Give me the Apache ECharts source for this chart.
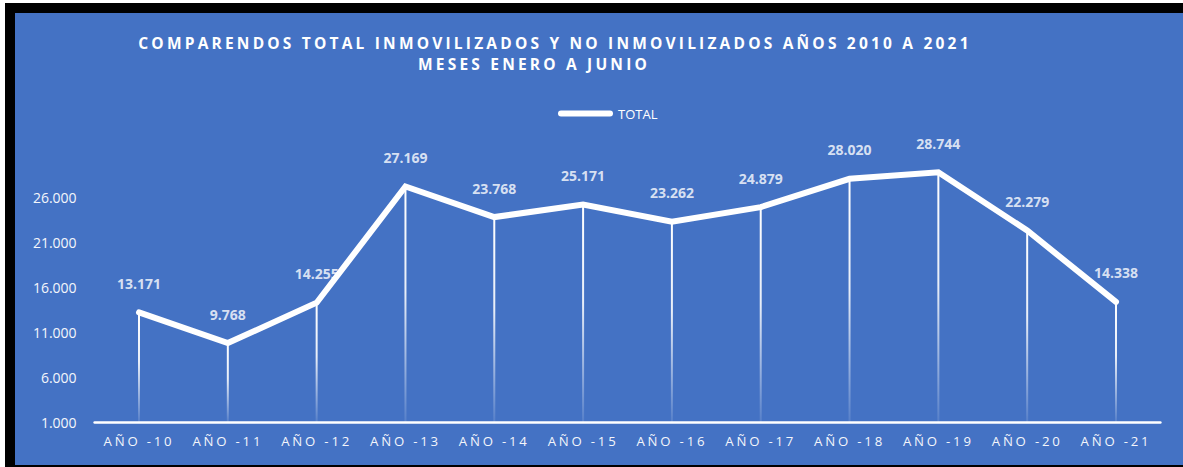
<!DOCTYPE html>
<html>
<head>
<meta charset="utf-8">
<title>Comparendos 2010-2021</title>
<script src="https://cdn.jsdelivr.net/npm/echarts@6/dist/echarts.min.js"></script>
<style>
  html, body { margin: 0; padding: 0; background: #ffffff; }
  #chart { width: 1183px; height: 467px; }
  /* spaced capitals for the heading and the category labels */
  #chart svg text[style*="15.5px"] { letter-spacing: 3.2px; }
  #chart svg text[style*="13.2px"] { letter-spacing: 2.8px; }
</style>
</head>
<body>
<div id="chart"></div>
<script>
// Categories (years) and totals for January-June of each year
const categories = ['AÑO -10', 'AÑO -11', 'AÑO -12', 'AÑO -13', 'AÑO -14', 'AÑO -15',
                    'AÑO -16', 'AÑO -17', 'AÑO -18', 'AÑO -19', 'AÑO -20', 'AÑO -21'];
const totals = [13171, 9768, 14255, 27169, 23768, 25171, 23262, 24879, 28020, 28744, 22279, 14338];
const seriesName = 'TOTAL';
const titleLines = ['COMPARENDOS TOTAL INMOVILIZADOS Y NO INMOVILIZADOS AÑOS 2010 A 2021',
                    'MESES ENERO A JUNIO'];
// Value axis range and step
const yMin = 1000;
const yMax = 30000;
const yStep = 5000;

const fmt = v => String(v).replace(/\B(?=(\d{3})+(?!\d))/g, '.');

const chart = echarts.init(document.getElementById('chart'), null, { renderer: 'svg' });

const BLUE = '#4472C4';
const FONT = "'Open Sans', 'Noto Sans', sans-serif";

chart.setOption({
  animation: false,
  backgroundColor: '#ffffff',
  graphic: [
    { type: 'rect', z: -10, shape: { x: 5, y: 3, width: 1178, height: 464 }, style: { fill: '#000000' } },
    { type: 'rect', z: -9, shape: { x: 15, y: 13, width: 1168, height: 452 }, style: { fill: BLUE } },
    { type: 'text', x: 555, y: 43, style: {
        text: titleLines[0], fill: '#ffffff', font: 'bold 15.5px ' + FONT,
        textAlign: 'center', textVerticalAlign: 'middle' } },
    { type: 'text', x: 534, y: 64, style: {
        text: titleLines[1], fill: '#ffffff', font: 'bold 15.5px ' + FONT,
        textAlign: 'center', textVerticalAlign: 'middle' } }
  ],
  legend: {
    data: [seriesName],
    left: 553,
    top: 102,
    itemWidth: 55,
    itemHeight: 6,
    itemGap: 4,
    icon: 'path://M3,0 H52 A3,3 0 0 1 52,6 H3 A3,3 0 0 1 3,0 Z',
    textStyle: { color: '#ffffff', fontSize: 13, fontFamily: FONT }
  },
  grid: { left: 94.6, right: 22.6, top: 161, bottom: 45, containLabel: false },
  xAxis: {
    type: 'category',
    data: categories,
    boundaryGap: true,
    axisLine: { lineStyle: { color: '#ffffff', width: 2.5 } },
    axisTick: { show: false },
    axisLabel: { color: '#f4f6fb', fontSize: 13.2, fontFamily: FONT, margin: 12 }
  },
  yAxis: {
    type: 'value',
    min: yMin,
    max: yMax,
    interval: yStep,
    axisLine: { show: false },
    axisTick: { show: false },
    splitLine: { show: false },
    axisLabel: {
      color: '#f4f6fb', fontSize: 14, fontFamily: FONT, margin: 18,
      showMaxLabel: false,
      formatter: v => fmt(v)
    }
  },
  series: [
    {
      // drop lines from each point to the axis
      type: 'bar',
      data: totals,
      barWidth: 2,
      z: 1,
      silent: true,
      itemStyle: {
        color: new echarts.graphic.LinearGradient(0, 0, 0, 1, [
          { offset: 0, color: 'rgba(255,255,255,1)' },
          { offset: 0.45, color: 'rgba(255,255,255,0.88)' },
          { offset: 1, color: 'rgba(255,255,255,0.1)' }
        ])
      }
    },
    {
      // value labels, kept beneath the line
      type: 'scatter',
      data: totals,
      symbolSize: 0,
      z: 2,
      silent: true,
      label: {
        show: true,
        position: 'top',
        distance: 22,
        color: '#ffffff',
        fontSize: 14,
        fontWeight: 'bold',
        fontFamily: FONT,
        formatter: p => fmt(p.value)
      }
    },
    {
      name: seriesName,
      type: 'line',
      data: totals,
      z: 3,
      symbol: 'none',
      lineStyle: { color: '#ffffff', width: 6, cap: 'round', join: 'miter' },
      itemStyle: { color: '#ffffff' }
    }
  ]
});
</script>
</body>
</html>
